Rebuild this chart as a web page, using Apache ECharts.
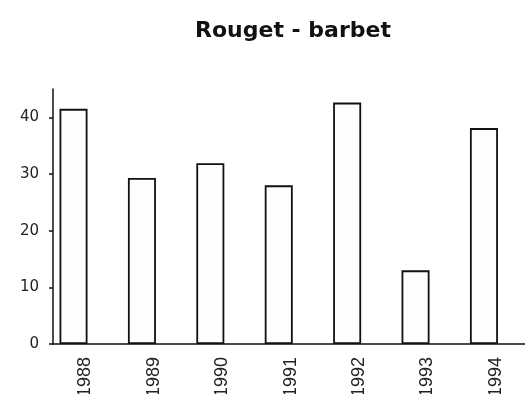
<!DOCTYPE html>
<html>
<head>
<meta charset="utf-8">
<script src="https://cdn.jsdelivr.net/npm/echarts@6/dist/echarts.min.js"></script>
<style>
  html, body { margin: 0; padding: 0; background: #fff; }
  #chart { width: 525px; height: 394px; }
</style>
</head>
<body>
<div id="chart"></div>
<script>
// Annual values for the red mullet series
const years = ['1988', '1989', '1990', '1991', '1992', '1993', '1994'];
const values = [41.5, 29.3, 31.9, 28.0, 42.6, 13.0, 38.1];
const yTicks = [0, 10, 20, 30, 40];

const chart = echarts.init(document.getElementById('chart'), null, { renderer: 'canvas' });

// Bars sit on a value axis indexed by year; a second, slightly shifted
// axis carries the rotated year labels just right of each bar.
const xMin = -0.3, xMax = 6.6, labelShift = 0.175;

chart.setOption({
  animation: false,
  backgroundColor: '#ffffff',
  title: {
    text: 'Rouget - barbet',
    left: 190,
    top: 15,
    textStyle: {
      fontFamily: 'DejaVu Sans',
      fontWeight: 'bold',
      fontSize: 22,
      color: '#111'
    }
  },
  grid: {
    left: 53, right: 0, top: 89, bottom: 50,
    containLabel: false,
    outerBoundsMode: 'none'
  },
  xAxis: [{
    type: 'value',
    min: xMin,
    max: xMax,
    splitLine: { show: false },
    axisLine: { show: true, onZero: false, lineStyle: { color: '#111', width: 1.5 } },
    axisTick: { show: false },
    axisLabel: { show: false }
  }, {
    type: 'value',
    position: 'bottom',
    min: xMin - labelShift,
    max: xMax - labelShift,
    splitLine: { show: false },
    axisLine: { show: false, onZero: false },
    axisTick: { show: false },
    axisLabel: {
      customValues: years.map((_, i) => i),
      formatter: v => years[v] ?? '',
      rotate: 90,
      margin: 13,
      fontFamily: 'Liberation Sans',
      fontSize: 18,
      color: '#222'
    }
  }],
  yAxis: {
    type: 'value',
    min: 0,
    max: 45,
    interval: 10,
    splitLine: { show: false },
    axisLine: { show: true, onZero: false, lineStyle: { color: '#111', width: 1.5 } },
    axisTick: {
      show: true,
      customValues: yTicks,
      inside: false,
      length: 4,
      lineStyle: { color: '#111', width: 1.5 }
    },
    axisLabel: {
      customValues: yTicks,
      margin: 14,
      fontFamily: 'DejaVu Sans',
      fontSize: 15,
      color: '#222'
    }
  },
  series: [{
    type: 'bar',
    xAxisIndex: 0,
    barWidth: 28,
    data: values.map((v, i) => [i, v]),
    itemStyle: {
      color: '#fdfdfd',
      borderColor: '#111',
      borderWidth: 1.8
    }
  }]
});
</script>
</body>
</html>
